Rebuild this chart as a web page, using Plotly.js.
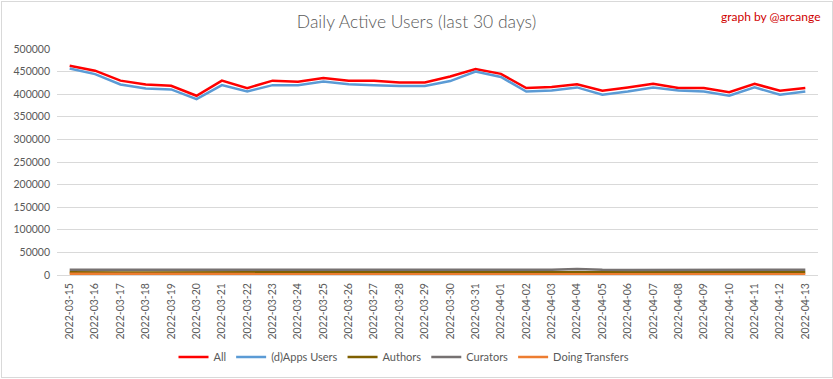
<!DOCTYPE html>
<html>
<head>
<meta charset="utf-8">
<script src="https://cdn.plot.ly/plotly-3.0.1.min.js"></script>
<style>
html,body{margin:0;padding:0;background:#fff;}
#wrap{position:relative;width:833px;height:379px;}
#chart{width:833px;height:379px;}
#frame{position:absolute;left:1px;top:1px;width:830px;height:375px;border:1px solid #d9d9d9;pointer-events:none;}
</style>
</head>
<body>
<div id="wrap"><div id="chart"></div><div id="frame"></div></div>
<script>
const dates = ["2022-03-15","2022-03-16","2022-03-17","2022-03-18","2022-03-19","2022-03-20","2022-03-21","2022-03-22","2022-03-23","2022-03-24","2022-03-25","2022-03-26","2022-03-27","2022-03-28","2022-03-29","2022-03-30","2022-03-31","2022-04-01","2022-04-02","2022-04-03","2022-04-04","2022-04-05","2022-04-06","2022-04-07","2022-04-08","2022-04-09","2022-04-10","2022-04-11","2022-04-12","2022-04-13"];
const allUsers = [463000,452000,430000,421500,418500,396500,430000,413500,430000,427500,436000,430000,430000,426000,426000,439000,455500,445000,413500,415700,422000,407500,415000,423000,413500,413500,404600,423000,407500,413500];
const appsUsers = [457000,444500,421600,412700,410500,389000,420000,406000,420000,420000,428000,422000,420000,418000,418000,429000,450000,438000,406000,408000,415000,399000,406000,415000,408000,406000,396500,415000,399000,406000];
const authors = [6000,6500,5800,5800,5800,5800,6500,6200,6200,6400,5900,5900,5900,6300,6300,6200,6000,6100,5800,5800,6000,6000,6000,6300,5900,5900,5800,6300,6000,6000];
const curators = [11500,11500,11300,11300,11300,11300,11500,11500,11500,11500,11300,11300,11300,11300,11300,11300,11300,11300,11300,11500,13500,11500,11300,11300,11300,11300,11300,11500,11500,11500];
const transfers = [2500,2500,2000,2000,2000,2000,2000,2000,2000,2000,2000,2000,2000,2000,2000,2200,2200,2000,2000,2000,2000,2000,2000,2000,2000,2000,2000,2000,2000,2000];
const yTicks = [0,50000,100000,150000,200000,250000,300000,350000,400000,450000,500000];

const FONT = "Lato, 'Open Sans', sans-serif";
const mk = (name, y, color, w) => ({type:'scatter', mode:'lines', x:dates, y:y, name:name, line:{color:color, width:w}, hoverinfo:'skip'});
const data = [
  mk('All', allUsers, '#ff0000', 2.5),
  mk('(d)Apps Users', appsUsers, '#5b9bd5', 2.5),
  mk('Authors', authors, '#7f6000', 2.5),
  mk('Curators', curators, '#767171', 2.5),
  mk('Doing Transfers', transfers, '#ed7d31', 2.5)
];
const layout = {
  width:833, height:379,
  margin:{l:57, r:15, t:49, b:104, autoexpand:false},
  paper_bgcolor:'#fff', plot_bgcolor:'#fff',
  font:{family:FONT, color:'#595959', size:11},
  title:{text:'Daily Active Users (last 30 days)', x:0.5, xanchor:'center', y:0.942, yanchor:'middle', yref:'container', font:{family:FONT, size:17.5, color:'#595959', weight:300}},
  xaxis:{type:'category', range:[-0.5, dates.length-0.5], tickangle:-90, showgrid:false, zeroline:false, showline:false, ticks:'', tickfont:{size:10.5, color:'#595959'}, ticklabelstandoff:5, automargin:false, fixedrange:true},
  yaxis:{range:[0,500000], tickvals:yTicks, ticktext:yTicks.map(String), showgrid:true, gridcolor:'#d9d9d9', gridwidth:1, zeroline:true, zerolinecolor:'#d9d9d9', zerolinewidth:1, showline:false, ticks:'', tickfont:{size:10.5, color:'#595959'}, ticklabelstandoff:6, automargin:false, fixedrange:true},
  showlegend:true,
  legend:{orientation:'h', x:0.485, xref:'container', xanchor:'center', y:0.058, yref:'container', yanchor:'middle', font:{size:11, color:'#595959'}, itemwidth:30, traceorder:'normal'},
  annotations:[{text:'graph by @arcange', xref:'paper', yref:'paper', x:1.0066, xanchor:'right', y:1.1416, yanchor:'middle', showarrow:false, font:{family:FONT, size:12, color:'#d00000'}}]
};
Plotly.newPlot('chart', data, layout, {displayModeBar:false, staticPlot:true});
</script>
</body>
</html>
